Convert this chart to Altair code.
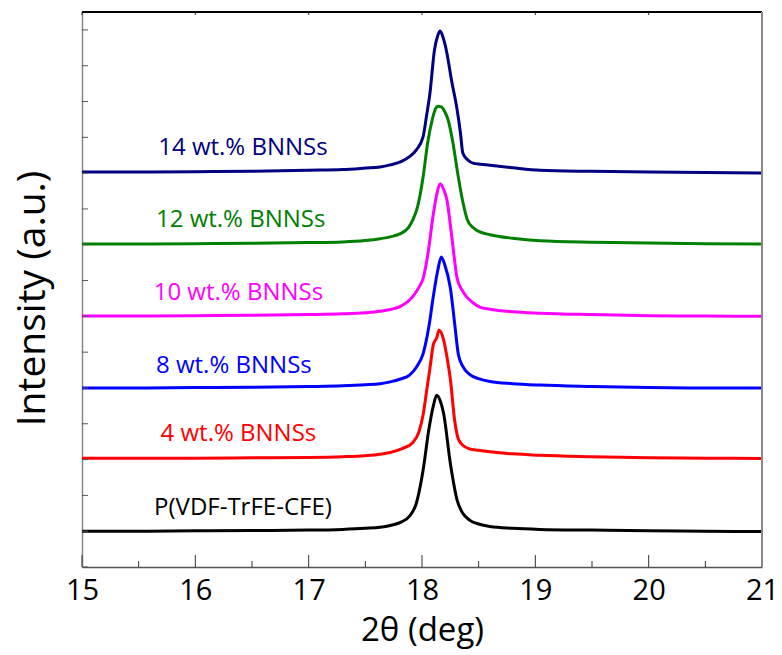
import altair as alt
import pandas as pd

# ---- data ----
series_names = ["P(VDF-TrFE-CFE)", "4 wt.% BNNSs", "8 wt.% BNNSs",
                "10 wt.% BNNSs", "12 wt.% BNNSs", "14 wt.% BNNSs"]
series_colors = ["#000000", "#ff0000", "#0000ff", "#ff00ff", "#008000", "#000080"]

x_black = [15, 15.5, 16, 16.5, 17, 17.3, 17.5, 17.63, 17.72, 17.82, 17.89, 17.95, 18.01, 18.06,
           18.10, 18.13, 18.16, 18.19, 18.25, 18.31, 18.36, 18.42, 18.5, 18.6, 18.8, 19.04,
           19.5, 20, 20.5, 21]
y_black = [1.0, 1.0, 1.01, 1.02, 1.03, 1.05, 1.08, 1.11, 1.16, 1.26, 1.42, 1.78, 2.71, 3.83,
           4.5, 4.80, 4.65, 4.30, 2.90, 1.87, 1.5, 1.31, 1.2, 1.13, 1.08, 1.05,
           1.03, 1.01, 1.0, 0.99]

x_red = [15, 15.5, 16, 16.5, 17, 17.3, 17.5, 17.63, 17.72, 17.82, 17.92, 17.97, 18.01, 18.04,
         18.07, 18.10, 18.13, 18.15, 18.19, 18.22, 18.25, 18.29, 18.32, 18.36, 18.42, 18.5,
         18.6, 18.8, 19.04, 19.5, 20, 20.5, 21]
y_red = [3.04, 3.04, 3.04, 3.05, 3.06, 3.08, 3.11, 3.15, 3.2, 3.3, 3.48, 3.75, 4.25, 4.9,
         5.55, 6.21, 6.40, 6.61, 6.35, 5.87, 5.25, 4.05, 3.58, 3.4, 3.3, 3.26,
         3.22, 3.16, 3.12, 3.08, 3.05, 3.04, 3.03]

x_blue = [15, 15.5, 16, 16.5, 17, 17.3, 17.5, 17.63, 17.72, 17.81, 17.89, 17.95, 18.01, 18.06,
          18.10, 18.14, 18.17, 18.20, 18.25, 18.29, 18.32, 18.36, 18.42, 18.5, 18.6, 18.8,
          19.04, 19.5, 20, 20.5, 21]
y_blue = [5.0, 5.0, 5.01, 5.02, 5.04, 5.06, 5.09, 5.12, 5.17, 5.25, 5.36, 5.58, 5.96, 6.7,
          7.56, 8.3, 8.66, 8.45, 7.8, 6.75, 5.95, 5.6, 5.38, 5.26, 5.18, 5.12,
          5.08, 5.04, 5.01, 5.0, 5.0]

x_magenta = [15, 15.5, 16, 16.5, 17, 17.3, 17.5, 17.63, 17.72, 17.81, 17.92, 17.98, 18.01,
             18.05, 18.10, 18.13, 18.16, 18.19, 18.22, 18.26, 18.31, 18.35, 18.39, 18.45,
             18.51, 18.6, 18.8, 19.04, 19.5, 20, 20.5, 21]
y_magenta = [7.01, 7.01, 7.02, 7.03, 7.05, 7.07, 7.1, 7.14, 7.19, 7.28, 7.56, 7.85, 8.06,
             8.7, 9.86, 10.4, 10.70, 10.55, 10.25, 9.3, 8.06, 7.75, 7.56, 7.38,
             7.26, 7.2, 7.13, 7.09, 7.05, 7.02, 7.01, 7.0]

x_green = [15, 15.5, 16, 16.5, 17, 17.3, 17.5, 17.63, 17.72, 17.81, 17.88, 17.92, 17.96, 18.01,
           18.05, 18.09, 18.12, 18.14, 18.17, 18.20, 18.23, 18.27, 18.32, 18.36, 18.40, 18.45,
           18.51, 18.6, 18.8, 19.04, 19.5, 20, 20.5, 21]
y_green = [9.02, 9.02, 9.03, 9.04, 9.06, 9.08, 9.12, 9.17, 9.22, 9.31, 9.48, 9.7, 10.05, 10.9,
           11.85, 12.49, 12.8, 12.87, 12.85, 12.72, 12.49, 11.9, 10.9, 10.2, 9.7, 9.48,
           9.36, 9.28, 9.18, 9.11, 9.07, 9.05, 9.03, 9.02]

x_navy = [15, 15.5, 16, 16.5, 17, 17.3, 17.5, 17.63, 17.72, 17.82, 17.89, 17.95, 18.01, 18.04,
          18.07, 18.11, 18.14, 18.16, 18.19, 18.22, 18.26, 18.31, 18.34, 18.36, 18.40, 18.45,
          18.52, 18.60, 18.8, 19.04, 19.5, 20, 20.5, 21]
y_navy = [11.03, 11.03, 11.04, 11.05, 11.08, 11.10, 11.14, 11.17, 11.23, 11.33, 11.46, 11.65,
          12.02, 12.6, 13.23, 14.44, 14.85, 14.97, 14.75, 14.35, 13.6, 12.77, 12.1, 11.56,
          11.38, 11.28, 11.25, 11.22, 11.15, 11.08, 11.05, 11.03, 11.02, 11.0]

label_x = [16.42, 16.38, 16.34, 16.38, 16.40, 16.42]
label_y = [1.65, 3.72, 5.61, 7.65, 9.69, 11.70]

x_major = [15, 16, 17, 18, 19, 20, 21]
x_minor = [15.5, 16.5, 17.5, 18.5, 19.5, 20.5]
y_ticks = list(range(0, 16))

# ---- build tables ----
xs = [x_black, x_red, x_blue, x_magenta, x_green, x_navy]
ys = [y_black, y_red, y_blue, y_magenta, y_green, y_navy]
rows = []
for i, (name, xx, yy) in enumerate(zip(series_names, xs, ys)):
    for a, b in zip(xx, yy):
        rows.append({"series": name, "order": i, "x": a, "y": b})
df = pd.DataFrame(rows)
labels_df = pd.DataFrame({"series": series_names, "x": label_x, "y": label_y})

W, H = 680, 555
FONT = "Open Sans"
xscale = alt.Scale(domain=[15, 21], nice=False, zero=False)
yscale = alt.Scale(domain=[0, 15.5], nice=False, zero=False)
cscale = alt.Scale(domain=series_names, range=series_colors)

lines = alt.Chart(df).mark_line(strokeWidth=3, interpolate="monotone").encode(
    x=alt.X("x:Q", scale=xscale,
            axis=alt.Axis(values=x_major, format="d", title="2θ (deg)", grid=False,
                          ticks=False, labelPadding=9, labelFontSize=29, labelFont=FONT,
                          labelFlush=False, labelOverlap=False,
                          labelColor="#000", titleFont=FONT, titleFontSize=33,
                          titleFontWeight="normal", titleColor="#000", titlePadding=9,
                          domainColor="#555", domainWidth=1.5)),
    y=alt.Y("y:Q", scale=yscale,
            axis=alt.Axis(title="Intensity (a.u.)", labels=False, ticks=False, grid=False,
                          titleFont=FONT, titleFontSize=39, titleFontWeight="normal",
                          titleColor="#000", titlePadding=30, titleY=286,
                          domainColor="#888", domainWidth=1.5)),
    color=alt.Color("series:N", scale=cscale, legend=None),
    detail="order:N",
)

texts = alt.Chart(labels_df).mark_text(font=FONT, fontSize=24, align="center",
                                       baseline="middle").encode(
    x=alt.X("x:Q", scale=xscale),
    y=alt.Y("y:Q", scale=yscale),
    color=alt.Color("series:N", scale=cscale, legend=None),
    text="series:N",
)

maj_df = pd.DataFrame({"t": x_major})
min_df = pd.DataFrame({"t": x_minor})
yt_df = pd.DataFrame({"t": y_ticks})

bot_major = alt.Chart(maj_df).mark_rule(color="#333", strokeWidth=1).encode(
    x=alt.X("t:Q", scale=xscale), y=alt.value(H), y2=alt.value(H - 12))
bot_minor = alt.Chart(min_df).mark_rule(color="#333", strokeWidth=1).encode(
    x=alt.X("t:Q", scale=xscale), y=alt.value(H), y2=alt.value(H - 6))
top_major = alt.Chart(maj_df).mark_rule(color="#333", strokeWidth=1).encode(
    x=alt.X("t:Q", scale=xscale), y=alt.value(0), y2=alt.value(3))
left_ticks = alt.Chart(yt_df).mark_rule(color="#555", strokeWidth=1).encode(
    y=alt.Y("t:Q", scale=yscale), x=alt.value(0), x2=alt.value(6))
top_line = alt.Chart(maj_df).mark_rule(color="#000", strokeWidth=1.5).encode(
    x=alt.value(0), x2=alt.value(W), y=alt.value(0))
right_line = alt.Chart(maj_df).mark_rule(color="#888", strokeWidth=1.5).encode(
    x=alt.value(W), y=alt.value(0), y2=alt.value(H))

chart = alt.layer(lines, texts, bot_major, bot_minor, top_major, left_ticks,
                  top_line, right_line).properties(
    width=W, height=H,
    autosize=alt.AutoSizeParams(type="none"),
    padding={"left": 82, "top": 12, "right": 20, "bottom": 88},
    background="white",
).configure_view(stroke=None)

chart.save("out.html", embed_options={"renderer": "svg", "actions": False})
